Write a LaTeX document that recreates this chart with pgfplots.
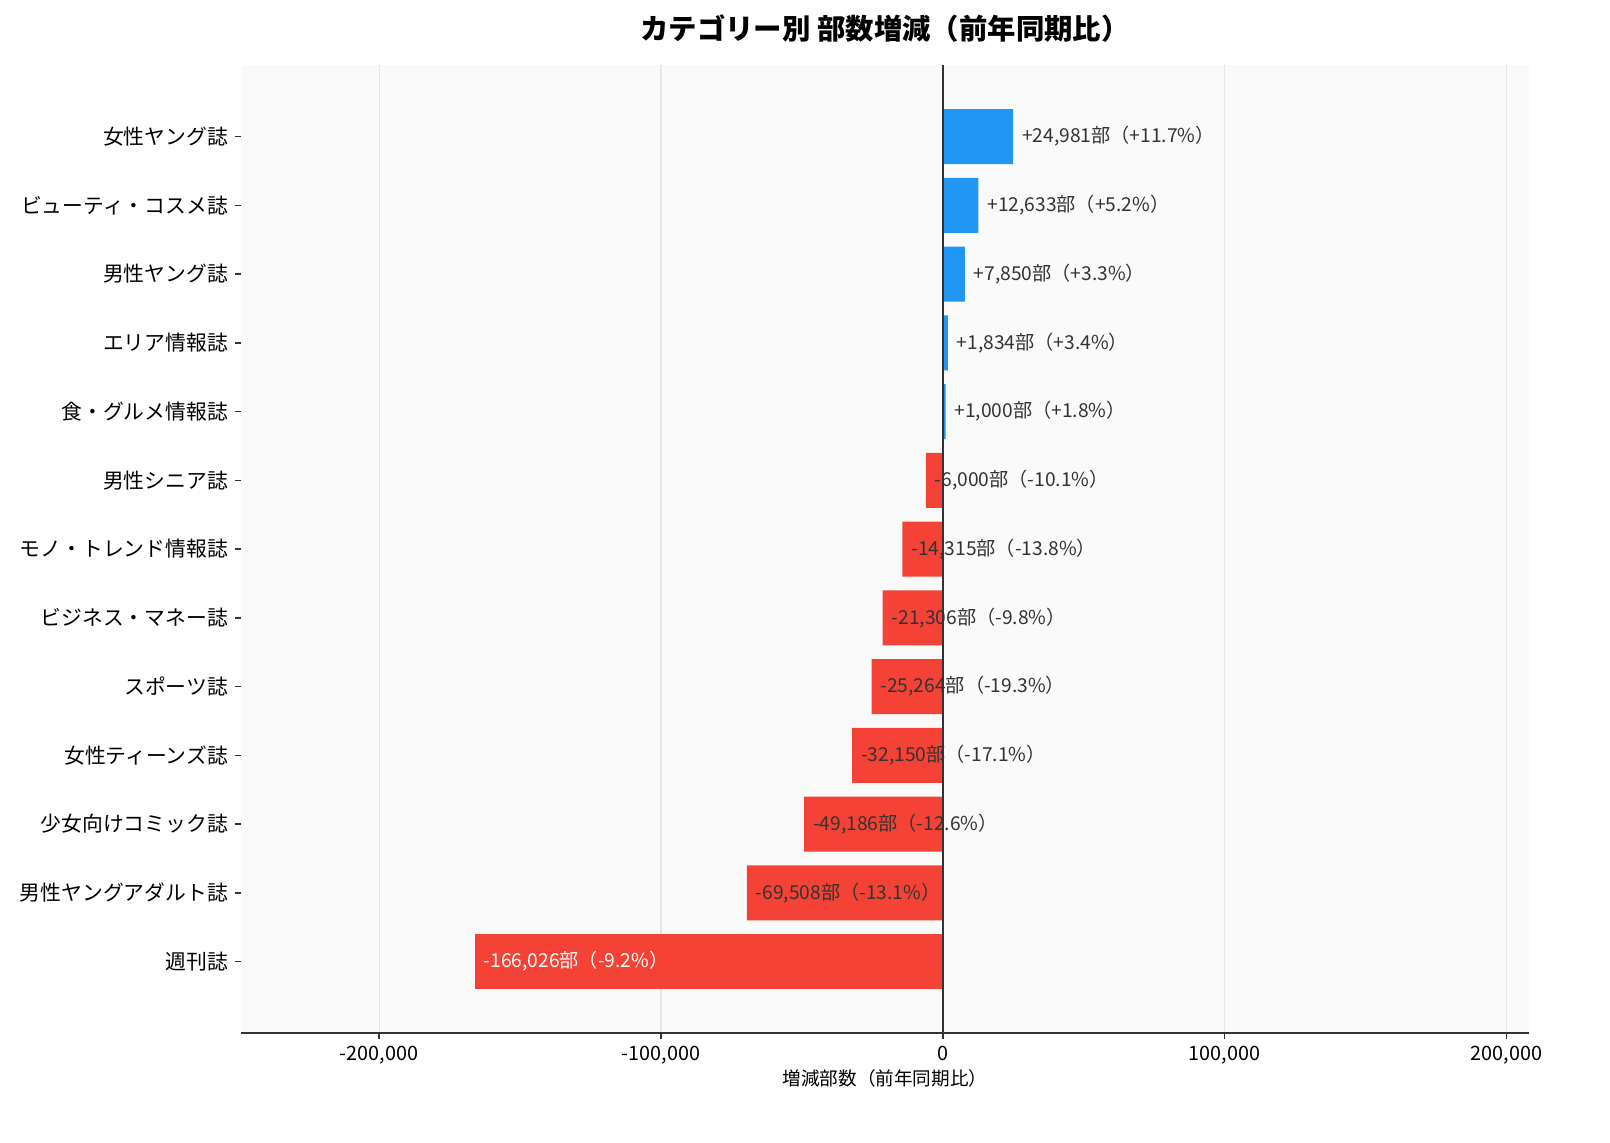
\documentclass[border=0pt]{standalone}
\usepackage{fontspec}
\setmainfont{Noto Sans CJK JP}
\usepackage{pgfplots}
\pgfplotsset{compat=1.18}

\definecolor{barpos}{HTML}{2196F3}
\definecolor{barneg}{HTML}{F44336}
\definecolor{txt}{HTML}{333333}
\definecolor{bgc}{HTML}{FAFAFA}
\definecolor{gridc}{HTML}{E6E6E6}

\begin{document}
\begin{tikzpicture}
  \begin{axis}[at={(0,0)}, anchor=south west,
               scale only axis,
               width=644pt, height=484pt,
               xbar, bar width=0.8, bar shift=0pt,
               xmin=-249000, xmax=208000,
               ymin=-1.04, ymax=13.04,
               y dir=reverse,
               xtick={-200000,-100000,...,200000},
               ytick={0,...,12},
               yticklabels={女性ヤング誌, ビューティ・コスメ誌, 男性ヤング誌, エリア情報誌,
                 食・グルメ情報誌, 男性シニア誌, モノ・トレンド情報誌, ビジネス・マネー誌,
                 スポーツ誌, 女性ティーンズ誌, 少女向けコミック誌, 男性ヤングアダルト誌, 週刊誌},
               scaled x ticks=false,
               /pgf/number format/.cd, fixed, 1000 sep={,}, assume math mode=true, /pgfplots/.cd,
               axis x line*=bottom, axis y line*=left,
               y axis line style={draw=none},
               x axis line style={color=txt, line width=0.75pt},
               tick align=outside, major tick length=3pt,
               tick style={color=txt, line width=0.75pt},
               xmajorgrids, major grid style={color=gridc, line width=0.6pt},
               axis background/.style={fill=bgc},
               ticklabel style={font=\fontsize{9.9}{11}\selectfont, color=black},
               yticklabel style={font=\fontsize{10.4}{12}\selectfont},
               xlabel={増減部数（前年同期比）},
               xlabel style={font=\fontsize{9.3}{10}\selectfont, yshift=4pt},
               title={\textbf{カテゴリー別 部数増減（前年同期比）}},
               title style={font=\fontsize{14.2}{16}\selectfont, yshift=2pt},
               point meta=explicit symbolic,
               nodes near coords,
               every node near coord/.append style={anchor=west, font=\fontsize{9.6}{11}\selectfont, color=txt, inner sep=0pt, xshift=4.3pt},
               clip=false]
    \addplot[fill=barpos, draw=none] coordinates {
      (24981,0) [+24,981部（+11.7\%）]
      (12633,1) [+12,633部（+5.2\%）]
      (7850,2) [+7,850部（+3.3\%）]
      (1834,3) [+1,834部（+3.4\%）]
      (1000,4) [+1,000部（+1.8\%）]
    };
    \addplot[fill=barneg, draw=none] coordinates {
      (-6000,5) [-6,000部（-10.1\%）]
      (-14315,6) [-14,315部（-13.8\%）]
      (-21306,7) [-21,306部（-9.8\%）]
      (-25264,8) [-25,264部（-19.3\%）]
      (-32150,9) [-32,150部（-17.1\%）]
      (-49186,10) [-49,186部（-12.6\%）]
      (-69508,11) [-69,508部（-13.1\%）]
    };
    \addplot[fill=barneg, draw=none,
             every node near coord/.append style={color=white}] coordinates {
      (-166026,12) [-166,026部（-9.2\%）]
    };
    \draw[color=txt, line width=0.75pt] (axis cs:0,-1.04) -- (axis cs:0,13.04);
  \end{axis}
  \pgfresetboundingbox
  \path[use as bounding box] (-120.5pt,-54.5pt) rectangle (684.5pt,516.5pt);
\end{tikzpicture}
\end{document}
